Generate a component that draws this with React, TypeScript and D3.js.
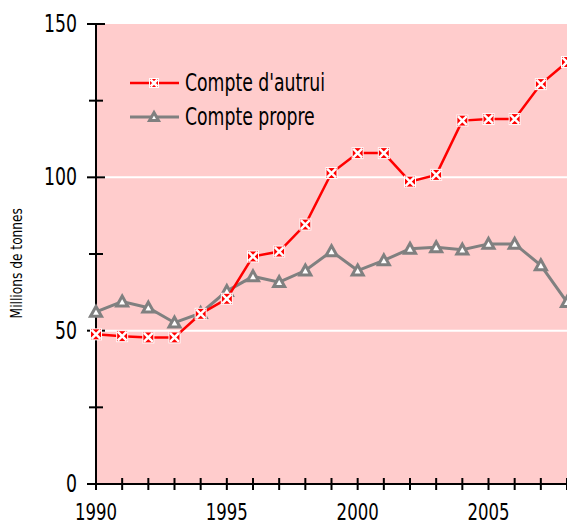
import * as d3 from "d3";
import * as React from "react";

const years = d3.range(1990, 2009);
const autrui = [48.8, 48.2, 47.8, 47.8, 55.5, 60.4, 74.2, 75.8, 84.6, 101.4, 107.9, 107.9, 98.6, 100.8, 118.5, 119.0, 119.0, 130.4, 137.6];
const propre = [56.1, 59.5, 57.5, 52.6, 55.7, 62.9, 67.7, 65.8, 69.6, 75.9, 69.6, 72.9, 76.7, 77.2, 76.4, 78.3, 78.3, 71.3, 59.3];
const yTicks = [0, 50, 100, 150];
const yMinor = [25, 75, 125];
const xLabels = [1990, 1995, 2000, 2005];
const gridValues = [50, 100];

const W = 567;
const H = 526;
const FONT = "'DejaVu Sans Condensed', 'DejaVu Sans', sans-serif";
const SX = 0.8;

export default function App() {
  const ref = React.useRef<SVGSVGElement>(null);

  React.useEffect(() => {
    const svg = d3.select(ref.current);
    svg.selectAll("*").remove();

    const x = d3.scaleLinear().domain([1990, 2008]).range([96, 567]);
    const y = d3.scaleLinear().domain([0, 150]).range([484, 24]);

    const label = (sel: any, tx: number, ty: number, txt: string, size: number, anchor: string) =>
      sel
        .append("text")
        .attr("transform", `translate(${tx},${ty}) scale(${SX},1)`)
        .attr("text-anchor", anchor)
        .attr("font-size", size)
        .attr("font-family", FONT)
        .text(txt);

    // background
    svg
      .append("rect")
      .attr("x", x(1990))
      .attr("y", y(150))
      .attr("width", W - x(1990))
      .attr("height", y(0) - y(150))
      .attr("fill", "#ffcccc");

    // grid lines
    svg
      .selectAll("line.grid")
      .data(gridValues)
      .enter()
      .append("line")
      .attr("class", "grid")
      .attr("x1", x(1990))
      .attr("x2", W)
      .attr("y1", (d) => y(d))
      .attr("y2", (d) => y(d))
      .attr("stroke", "#fff")
      .attr("stroke-width", 2);

    const g = svg.append("g");

    // y axis
    g.append("line")
      .attr("x1", x(1990))
      .attr("x2", x(1990))
      .attr("y1", y(150))
      .attr("y2", y(0))
      .attr("stroke", "#000")
      .attr("stroke-width", 2);
    g.selectAll("line.ymaj")
      .data(yTicks)
      .enter()
      .append("line")
      .attr("x1", 87)
      .attr("x2", 105)
      .attr("y1", (d) => y(d))
      .attr("y2", (d) => y(d))
      .attr("stroke", "#000")
      .attr("stroke-width", 2);
    g.selectAll("line.ymin")
      .data(yMinor)
      .enter()
      .append("line")
      .attr("x1", 89)
      .attr("x2", 103)
      .attr("y1", (d) => y(d))
      .attr("y2", (d) => y(d))
      .attr("stroke", "#000")
      .attr("stroke-width", 2);
    yTicks.forEach((d) => label(g, 77, y(d) + 8, String(d), 24, "end"));

    g.append("text")
      .attr("transform", `translate(22,${y(72)}) rotate(-90) scale(0.85,1)`)
      .attr("text-anchor", "middle")
      .attr("font-size", 16)
      .attr("font-family", FONT)
      .text("Millions de tonnes");

    // x axis
    g.append("line")
      .attr("x1", 87)
      .attr("x2", W)
      .attr("y1", y(0))
      .attr("y2", y(0))
      .attr("stroke", "#000")
      .attr("stroke-width", 2);
    g.selectAll("line.xt")
      .data(years)
      .enter()
      .append("line")
      .attr("x1", (d) => x(d))
      .attr("x2", (d) => x(d))
      .attr("y1", y(0) - 6)
      .attr("y2", y(0) + 6)
      .attr("stroke", "#000")
      .attr("stroke-width", 2);
    xLabels.forEach((d) => label(g, x(d), 520, String(d), 23, "middle"));

    const line = d3
      .line<number>()
      .x((d, i) => x(years[i]))
      .y((d) => y(d));

    const drawCross = (sel: any, cx: number, cy: number, r: number) => {
      sel.append("rect")
        .attr("x", cx - r)
        .attr("y", cy - r)
        .attr("width", 2 * r)
        .attr("height", 2 * r)
        .attr("fill", "#ff0000")
        .attr("stroke", "#fff")
        .attr("stroke-width", 1);
      const k = r - 1;
      sel.append("path")
        .attr("d", `M${cx - k},${cy - k}L${cx + k},${cy + k}M${cx + k},${cy - k}L${cx - k},${cy + k}`)
        .attr("stroke", "#fff")
        .attr("stroke-width", 2.5);
    };
    const drawTri = (sel: any, cx: number, cy: number, r: number) => {
      sel.append("path")
        .attr("d", `M${cx},${cy - r}L${cx + r},${cy + r * 0.8}L${cx - r},${cy + r * 0.8}Z`)
        .attr("fill", "#fff")
        .attr("stroke", "#808080")
        .attr("stroke-width", 3)
        .attr("stroke-linejoin", "miter");
    };

    // series
    svg.append("path")
      .datum(propre)
      .attr("d", line)
      .attr("fill", "none")
      .attr("stroke", "#808080")
      .attr("stroke-width", 3);
    const gm = svg.append("g");
    propre.forEach((v, i) => drawTri(gm, x(years[i]), y(v), 5.5));

    svg.append("path")
      .datum(autrui)
      .attr("d", line)
      .attr("fill", "none")
      .attr("stroke", "#ff0000")
      .attr("stroke-width", 2.5);
    const rm = svg.append("g");
    autrui.forEach((v, i) => drawCross(rm, x(years[i]), y(v), 5.5));

    // legend
    const lg = svg.append("g");
    lg.append("line").attr("x1", 130).attr("x2", 179).attr("y1", 83).attr("y2", 83)
      .attr("stroke", "#ff0000").attr("stroke-width", 2.5);
    drawCross(lg, 154, 83, 4.5);
    label(lg, 185, 91, "Compte d'autrui", 24, "start");
    lg.append("line").attr("x1", 130).attr("x2", 179).attr("y1", 117).attr("y2", 117)
      .attr("stroke", "#808080").attr("stroke-width", 3);
    drawTri(lg, 154, 117, 4.5);
    label(lg, 185, 125, "Compte propre", 24, "start");
  }, []);

  return (
    <svg
      ref={ref}
      width={W}
      height={H}
      style={{ position: "absolute", left: 0, top: 0, background: "#fff" }}
    />
  );
}
